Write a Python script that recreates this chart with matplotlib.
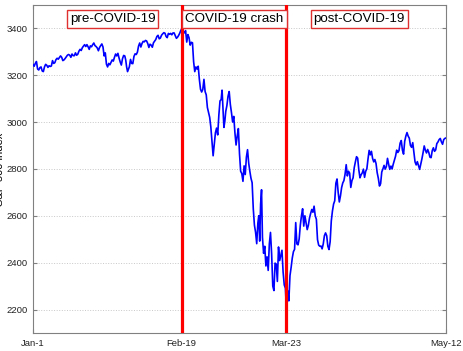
import numpy as np
import matplotlib
matplotlib.use("Agg")
import matplotlib.pyplot as plt

plt.rcParams['font.family'] = ['Liberation Sans', 'DejaVu Sans']

# S&P 500 intraday path, one list per trading day (Jan 2 .. May 12, 2020)
jan = [
    [3245, 3238, 3250, 3258], [3226, 3222, 3232, 3235], [3218, 3215, 3235, 3246],
    [3242, 3233, 3240, 3237], [3239, 3262, 3250, 3253], [3266, 3272, 3268, 3275],
    [3282, 3276, 3262, 3265], [3271, 3278, 3285, 3288], [3285, 3276, 3290, 3283],
    [3283, 3295, 3285, 3289], [3302, 3310, 3305, 3317], [3324, 3330, 3322, 3330],
    [3321, 3310, 3325, 3321], [3330, 3337, 3326, 3322], [3316, 3304, 3318, 3326],
    [3333, 3320, 3282, 3295], [3247, 3235, 3250, 3244], [3255, 3265, 3260, 3276],
    [3290, 3282, 3293, 3273], [3256, 3243, 3270, 3284], [3282, 3265, 3235, 3215, 3226],
]
feb = [
    [3236, 3267, 3250, 3249], [3280, 3291, 3288, 3298], [3324, 3337, 3320, 3335],
    [3344, 3342, 3348, 3346], [3335, 3318, 3332, 3328], [3319, 3338, 3345, 3352],
    [3365, 3370, 3355, 3358], [3370, 3376, 3381, 3379], [3365, 3360, 3378, 3374],
    [3378, 3372, 3380, 3380], [3369, 3357, 3362, 3370], [3380, 3393, 3386, 3386],
    [3380, 3390, 3341, 3373], [3360, 3328, 3340, 3338], [3257, 3215, 3235, 3226],
    [3238, 3182, 3140, 3128], [3139, 3182, 3130, 3116], [3062, 3040, 3020, 2979],
    [2917, 2856, 2905, 2954],
]
mar = [
    [2974, 2945, 3030, 3090], [3096, 3136, 3060, 2977, 3003], [3045, 3070, 3110, 3130],
    [3075, 3040, 3000, 3024], [2954, 2902, 2940, 2972], [2864, 2790, 2780, 2747],
    [2813, 2776, 2850, 2882], [2825, 2790, 2760, 2741], [2630, 2560, 2530, 2481],
    [2569, 2600, 2492, 2650, 2711], [2508, 2440, 2470, 2386], [2425, 2367, 2480, 2529],
    [2437, 2300, 2281, 2398], [2394, 2320, 2467, 2409], [2431, 2453, 2360, 2305],
    [2291, 2192, 2280, 2237], [2345, 2380, 2420, 2447], [2457, 2571, 2480, 2476],
    [2501, 2560, 2600, 2630], [2556, 2600, 2570, 2541], [2559, 2590, 2610, 2627],
    [2615, 2641, 2600, 2585],
]
apr = [
    [2498, 2475, 2470, 2471], [2459, 2480, 2515, 2527], [2515, 2470, 2456, 2489],
    [2578, 2620, 2650, 2664], [2739, 2757, 2700, 2659], [2685, 2720, 2740, 2750],
    [2777, 2818, 2770, 2790], [2782, 2721, 2750, 2762], [2805, 2830, 2852, 2846],
    [2796, 2762, 2775, 2783], [2799, 2764, 2790, 2800], [2842, 2879, 2860, 2875],
    [2845, 2830, 2840, 2823], [2784, 2760, 2727, 2737], [2787, 2800, 2815, 2799],
    [2810, 2845, 2820, 2798], [2812, 2800, 2820, 2837], [2854, 2880, 2870, 2878],
    [2910, 2921, 2880, 2863], [2918, 2940, 2955, 2940], [2931, 2900, 2892, 2912],
]
may = [
    [2869, 2830, 2817, 2831], [2815, 2798, 2820, 2843], [2869, 2898, 2880, 2868],
    [2883, 2870, 2850, 2848], [2878, 2890, 2875, 2881], [2908, 2915, 2925, 2930],
    [2915, 2905, 2925, 2930], [2932],
]
days = jan + feb + mar + apr + may

# position (in trading days) of each date label; the two middle ones
# are where the crash starts and ends
tick_pos = [0, 32.4, 55.2, 90]
tick_labels = ['Jan-1', 'Feb-19', 'Mar-23', 'May-12']
yticks = [2200, 2400, 2600, 2800, 3000, 3200, 3400]

# x position: trading day index plus fraction of the day
x, y = [], []
for i, d in enumerate(days):
    for j, v in enumerate(d):
        x.append(i + j / len(d))
        y.append(v)

fig = plt.figure(figsize=(4.63, 3.51), dpi=100)
ax = fig.add_axes([0.0713, 0.0513, 0.892, 0.935])

ax.plot(x, y, color='#0000ff', lw=1.2, zorder=3)
for s in tick_pos[1:3]:
    ax.axvline(s, color='#ff0000', lw=2.3, zorder=4)

ax.set_xlim(0, 90)
ax.set_ylim(2100, 3500)
ax.set_xticks(tick_pos)
ax.set_xticklabels(tick_labels)
ax.set_yticks(yticks)
ax.yaxis.grid(True, ls=':', color='#c8c8c8', lw=0.7)
ax.tick_params(direction='in', length=3, labelsize=6.8, colors='#7f7f7f',
               labelcolor='#222222', right=True, top=True, pad=4)
for sp in ax.spines.values():
    sp.set_color('#808080')
    sp.set_linewidth(0.8)

ax.set_ylabel('S&P 500 index', fontsize=8, labelpad=1)
ax.set_xlabel('Dates', fontsize=8, labelpad=3)

box = dict(boxstyle='square,pad=0.22', fc='white', ec='#e03030', lw=1)
ax.text(0.1925, 0.957, 'pre-COVID-19', transform=ax.transAxes, ha='center',
        va='center', fontsize=9.6, bbox=box, zorder=5)
ax.text(0.488, 0.957, 'COVID-19 crash', transform=ax.transAxes, ha='center',
        va='center', fontsize=9.6, bbox=box, zorder=5)
ax.text(0.790, 0.957, 'post-COVID-19', transform=ax.transAxes, ha='center',
        va='center', fontsize=9.6, bbox=box, zorder=5)

fig.savefig('out.png', dpi=100)
